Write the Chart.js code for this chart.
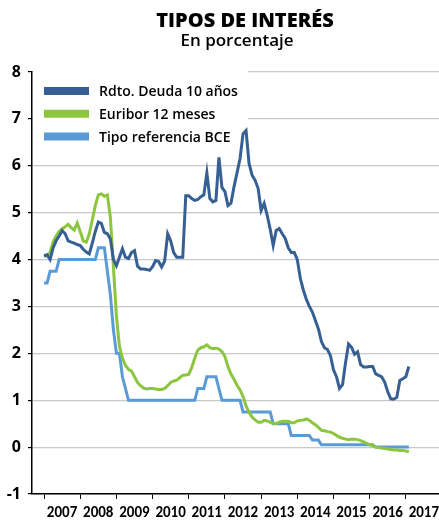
<!DOCTYPE html>
<html>
<head>
<meta charset="utf-8">
<script src="https://cdn.jsdelivr.net/npm/chart.js@4.4.1/dist/chart.umd.min.js"></script>
<style>
  html, body { margin: 0; padding: 0; background: #fff; }
</style>
</head>
<body>
<canvas id="tiposChart" width="439" height="525"></canvas>
<script>
// monthly values, Jan 2007 .. Feb 2017
const years = ["2007","2008","2009","2010","2011","2012","2013","2014","2015","2016","2017"];

const rdto = [
  4.08, 4.10, 4.00, 4.25, 4.40, 4.50, 4.62, 4.55, 4.40, 4.37, 4.35, 4.32,
  4.30, 4.22, 4.16, 4.12, 4.35, 4.60, 4.80, 4.77, 4.58, 4.55, 4.44, 4.00,
  3.87, 4.05, 4.23, 4.05, 4.02, 4.15, 4.19, 3.86, 3.80, 3.80, 3.79, 3.77,
  3.85, 3.98, 3.96, 3.84, 3.97, 4.55, 4.40, 4.15, 4.05, 4.05, 4.05, 5.36,
  5.36, 5.30, 5.26, 5.28, 5.34, 5.38, 5.85, 5.30, 5.23, 5.26, 6.18, 5.54,
  5.45, 5.15, 5.20, 5.55, 5.85, 6.15, 6.68, 6.75, 6.05, 5.80, 5.69, 5.52,
  5.05, 5.20, 4.95, 4.65, 4.30, 4.62, 4.66, 4.55, 4.45, 4.25, 4.15, 4.15,
  4.00, 3.60, 3.35, 3.15, 3.00, 2.88, 2.70, 2.52, 2.25, 2.12, 2.08, 1.95,
  1.65, 1.50, 1.25, 1.33, 1.80, 2.20, 2.13, 1.98, 2.03, 1.76, 1.71, 1.71,
  1.72, 1.72, 1.56, 1.53, 1.50, 1.38, 1.18, 1.03, 1.02, 1.06, 1.42, 1.46,
  1.50, 1.72
];

const euribor = [
  4.06, 4.09, 4.15, 4.38, 4.50, 4.60, 4.66, 4.70, 4.75, 4.68, 4.63, 4.78,
  4.60, 4.40, 4.37, 4.55, 4.85, 5.15, 5.38, 5.40, 5.35, 5.38, 4.90, 3.85,
  2.80, 2.15, 1.90, 1.74, 1.66, 1.62, 1.50, 1.38, 1.31, 1.26, 1.24, 1.25,
  1.25, 1.24, 1.23, 1.23, 1.25, 1.31, 1.38, 1.41, 1.43, 1.48, 1.53, 1.54,
  1.55, 1.70, 1.90, 2.07, 2.12, 2.14, 2.18, 2.12, 2.10, 2.11, 2.09, 2.04,
  1.93, 1.72, 1.56, 1.45, 1.32, 1.22, 1.08, 0.88, 0.74, 0.64, 0.58, 0.53,
  0.53, 0.57, 0.56, 0.53, 0.51, 0.50, 0.53, 0.55, 0.55, 0.55, 0.52, 0.52,
  0.56, 0.57, 0.58, 0.60, 0.57, 0.52, 0.48, 0.42, 0.36, 0.35, 0.33, 0.32,
  0.29, 0.25, 0.21, 0.19, 0.17, 0.16, 0.17, 0.17, 0.16, 0.14, 0.11, 0.08,
  0.05, 0.03, 0.00, -0.01, -0.02, -0.03, -0.04, -0.05, -0.06, -0.06, -0.07, -0.07,
  -0.08, -0.10
];

const bce = [
  3.50, 3.50, 3.75, 3.75, 3.75, 4.00, 4.00, 4.00, 4.00, 4.00, 4.00, 4.00,
  4.00, 4.00, 4.00, 4.00, 4.00, 4.00, 4.25, 4.25, 4.25, 3.75, 3.25, 2.50,
  2.00, 2.00, 1.50, 1.25, 1.00, 1.00, 1.00, 1.00, 1.00, 1.00, 1.00, 1.00,
  1.00, 1.00, 1.00, 1.00, 1.00, 1.00, 1.00, 1.00, 1.00, 1.00, 1.00, 1.00,
  1.00, 1.00, 1.00, 1.25, 1.25, 1.25, 1.50, 1.50, 1.50, 1.50, 1.25, 1.00,
  1.00, 1.00, 1.00, 1.00, 1.00, 1.00, 0.75, 0.75, 0.75, 0.75, 0.75, 0.75,
  0.75, 0.75, 0.75, 0.75, 0.50, 0.50, 0.50, 0.50, 0.50, 0.50, 0.25, 0.25,
  0.25, 0.25, 0.25, 0.25, 0.25, 0.15, 0.15, 0.15, 0.05, 0.05, 0.05, 0.05,
  0.05, 0.05, 0.05, 0.05, 0.05, 0.05, 0.05, 0.05, 0.05, 0.05, 0.05, 0.05,
  0.05, 0.05, 0.00, 0.00, 0.00, 0.00, 0.00, 0.00, 0.00, 0.00, 0.00, 0.00,
  0.00, 0.00
];

const seriesNames = ["Rdto. Deuda 10 años", "Euribor 12 meses", "Tipo referencia BCE"];
const seriesColors = ["#365f93", "#8cc63f", "#5b9bd5"];

const fontFamily = "'Open Sans', Lato, sans-serif";
const narrowFamily = "Carlito, 'Liberation Sans Narrow', Lato, sans-serif";

const toPoints = arr => arr.map((v, i) => ({ x: i, y: v }));

// title, subtitle and a legend box sitting inside the plot
const overlay = {
  id: "overlay",
  beforeDatasetsDraw(chart) {
    const c = chart.ctx, a = chart.chartArea;
    c.save();
    c.fillStyle = "#fff";
    c.fillRect(a.left + 1, a.top - 4, 248 - a.left - 1, 56);
    seriesNames.forEach((name, k) => {
      const y = a.top + 19 + k * 22.8;
      c.strokeStyle = seriesColors[k];
      c.lineWidth = 8;
      c.beginPath();
      c.moveTo(a.left + 12, y);
      c.lineTo(a.left + 57, y);
      c.stroke();
      c.fillStyle = "#000";
      c.font = "600 14px " + fontFamily;
      c.textAlign = "left";
      c.textBaseline = "alphabetic";
      c.fillText(name, a.left + 67, y + 5.3);
    });
    c.restore();
  },
  afterDraw(chart) {
    const c = chart.ctx;
    c.save();
    c.fillStyle = "#000";
    c.textAlign = "center";
    c.textBaseline = "alphabetic";
    c.font = "800 20px " + fontFamily;
    c.fillText("TIPOS DE INTERÉS", 245, 27);
    c.font = "600 17px " + fontFamily;
    c.fillText("En porcentaje", 237, 45.5);
    c.restore();
  }
};

const ctx = document.getElementById("tiposChart").getContext("2d");
const tiposChart = new Chart(ctx, {
  type: "line",
  data: {
    datasets: [
      { label: seriesNames[0], data: toPoints(rdto), borderColor: seriesColors[0], order: 0 },
      { label: seriesNames[1], data: toPoints(euribor), borderColor: seriesColors[1], order: 1 },
      { label: seriesNames[2], data: toPoints(bce), borderColor: seriesColors[2], order: 2 }
    ]
  },
  options: {
    responsive: false,
    animation: false,
    layout: { padding: { top: 72, right: 0, bottom: 0, left: 0 } },
    elements: {
      point: { radius: 0 },
      line: { borderWidth: 3, tension: 0, fill: false }
    },
    plugins: {
      legend: { display: false },
      title: { display: false },
      tooltip: { enabled: false }
    },
    scales: {
      x: {
        type: "linear",
        min: -4,
        max: 131,
        afterBuildTicks: s => { s.ticks = years.map((y, k) => ({ value: k * 12 })); },
        afterFit: s => { s.height = 31; },
        grid: { drawOnChartArea: false, tickLength: 5, tickColor: "#000", tickWidth: 1 },
        border: { color: "#000", width: 1.5 },
        ticks: {
          callback: v => years[Math.round(v / 12)],
          labelOffset: 18,
          padding: 5,
          autoSkip: false,
          maxRotation: 0,
          color: "#000",
          font: { family: narrowFamily, size: 15, weight: "bold" }
        }
      },
      y: {
        min: -1,
        max: 8,
        afterFit: s => { s.width = 32; },
        grid: { color: "#c8c8c8", lineWidth: 1.2, tickLength: 4, tickColor: "#000" },
        border: { color: "#000", width: 1.5 },
        ticks: {
          stepSize: 1,
          padding: 7,
          color: "#000",
          font: { family: fontFamily, size: 16, weight: "bold" }
        }
      }
    }
  },
  plugins: [overlay]
});
</script>
</body>
</html>
